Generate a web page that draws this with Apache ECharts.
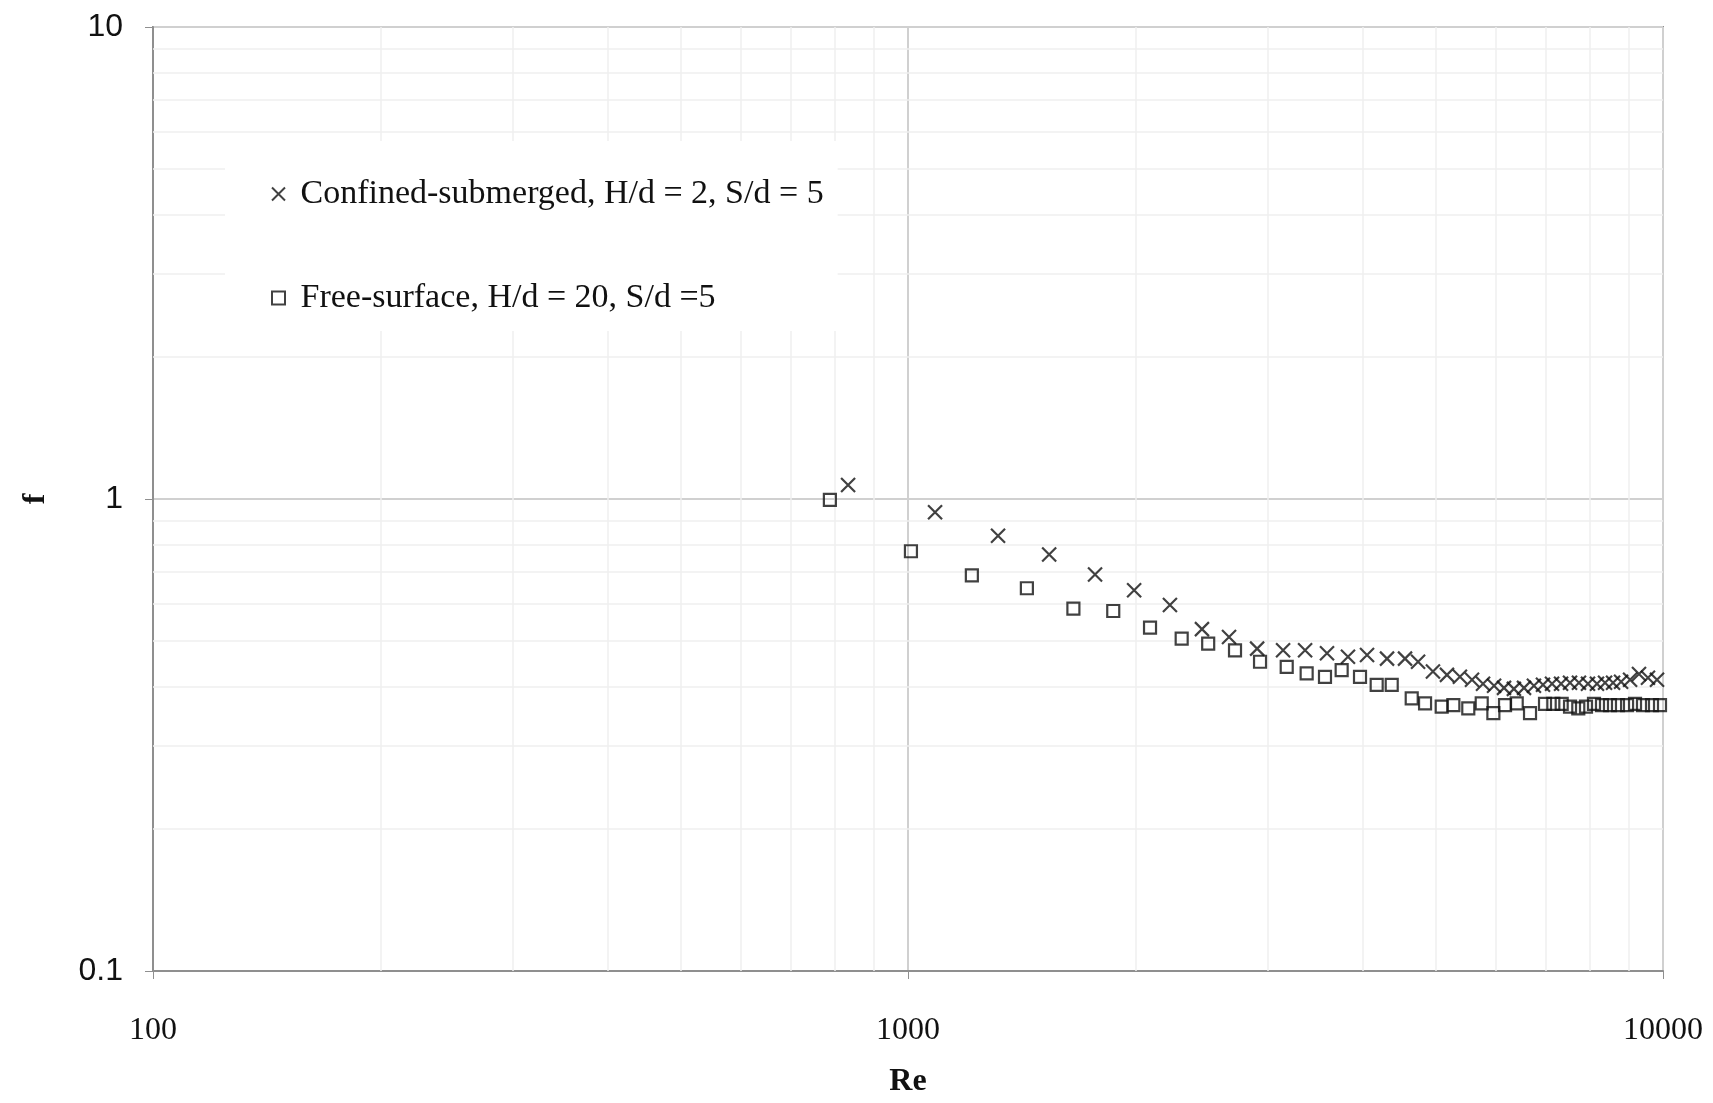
<!DOCTYPE html>
<html>
<head>
<meta charset="utf-8">
<title>Friction factor vs Re</title>
<script src="https://cdn.jsdelivr.net/npm/echarts@6/dist/echarts.min.js"></script>
<style>
  html, body { margin: 0; padding: 0; background: #fff; }
  #chart { width: 1713px; height: 1103px; }
</style>
</head>
<body>
<div id="chart"></div>
<script>
// Confined-submerged, H/d = 2, S/d = 5 (crosses)
const confinedRe = [833, 1086, 1316, 1538, 1769, 1993, 2223, 2451, 2662, 2900,
  3139, 3357, 3589, 3826, 4055, 4310, 4553, 4738, 4958, 5174,
  5383, 5585, 5776, 5974, 6158, 6346, 6545, 6746, 6935, 7129,
  7328, 7531, 7739, 7955, 8176, 8380, 8587, 8800, 9045, 9294,
  9552, 9819]
const confinedF = [1.071, 0.937, 0.836, 0.763, 0.692, 0.641, 0.596, 0.530, 0.510, 0.482,
  0.478, 0.478, 0.471, 0.463, 0.467, 0.459, 0.459, 0.452, 0.431, 0.424,
  0.420, 0.414, 0.406, 0.402, 0.398, 0.396, 0.398, 0.402, 0.404, 0.406,
  0.406, 0.408, 0.408, 0.406, 0.406, 0.408, 0.408, 0.410, 0.414, 0.426,
  0.418, 0.414]

// Free-surface, H/d = 20, S/d = 5 (squares)
const freeRe = [788, 1009, 1215, 1437, 1656, 1870, 2092, 2304, 2498, 2711,
  2926, 3174, 3373, 3567, 3753, 3969, 4176, 4372, 4647, 4840,
  5092, 5276, 5522, 5753, 5961, 6177, 6401, 6666, 6978, 7157,
  7342, 7531, 7723, 7907, 8102, 8302, 8507, 8717, 8962, 9182,
  9408, 9670, 9909]
const freeF = [0.996, 0.775, 0.689, 0.647, 0.586, 0.579, 0.534, 0.506, 0.494, 0.478,
  0.452, 0.441, 0.427, 0.420, 0.434, 0.420, 0.404, 0.404, 0.378, 0.369,
  0.363, 0.366, 0.360, 0.369, 0.352, 0.366, 0.369, 0.352, 0.368, 0.368,
  0.368, 0.363, 0.360, 0.363, 0.368, 0.366, 0.366, 0.366, 0.366, 0.368,
  0.366, 0.366, 0.366]

const seriesNames = ["Confined-submerged, H/d = 2, S/d = 5", "Free-surface, H/d = 20, S/d =5"]

// log-axis ticks and the in-between grid values
const xTicks = [100, 1000, 10000]
const xTickLabels = ["100", "1000", "10000"]
const yTicks = [0.1, 1, 10]
const yTickLabels = ["0.1", "1", "10"]
const minorX = [200, 300, 400, 500, 600, 700, 800, 900, 2000, 3000, 4000, 5000, 6000, 7000, 8000, 9000]
const minorY = [0.2, 0.3, 0.4, 0.5, 0.6, 0.7, 0.8, 0.9, 2, 3, 4, 5, 6, 7, 8, 9]

const serif = "'Liberation Serif', 'DejaVu Serif', serif"
const sans = "'Liberation Sans', Arial, sans-serif"
const ink = "#111"
const frame = "#8f8f8f"
const majorGrid = "#d0d0d0"
const minorGrid = "#efefef"

const crossPath = "path://M0,0L10,10M10,0L0,10"
const squarePath = "path://M0,0L10,0L10,10L0,10Z"

function tickLabel(ticks, labels) {
  return (value) => {
    const i = ticks.findIndex((t) => Math.abs(Math.log10(t) - Math.log10(value)) < 1e-6)
    return i >= 0 ? labels[i] : ""
  }
}

const chart = echarts.init(document.getElementById("chart"), null, { renderer: "canvas" })

chart.setOption({
  animation: false,
  backgroundColor: "#fff",
  grid: {
    left: 153, right: 50, top: 27, bottom: 127,
    show: true, borderColor: frame, borderWidth: 2,
  },
  legend: {
    orient: "vertical",
    left: 225,
    top: 141,
    z: 10,
    padding: [36, 14, 16, 46],
    backgroundColor: "#fff",
    itemWidth: 34,
    itemHeight: 13,
    itemGap: 70,
    textStyle: { fontFamily: serif, fontSize: 34, color: ink },
    data: [
      { name: seriesNames[0], icon: crossPath },
      { name: seriesNames[1], icon: squarePath },
    ],
  },
  xAxis: {
    type: "log",
    logBase: 10,
    min: 100,
    max: 10000,
    name: "Re",
    nameLocation: "middle",
    nameGap: 95,
    nameTextStyle: { fontFamily: serif, fontSize: 32, fontWeight: "bold", color: ink },
    axisLine: { lineStyle: { color: frame, width: 2 } },
    axisTick: { show: true, length: 8, lineStyle: { color: frame, width: 1 } },
    axisLabel: {
      margin: 44,
      fontFamily: serif,
      fontSize: 32,
      color: ink,
      formatter: tickLabel(xTicks, xTickLabels),
    },
    splitLine: { show: true, lineStyle: { color: majorGrid, width: 2 } },
  },
  yAxis: {
    type: "log",
    logBase: 10,
    min: 0.1,
    max: 10,
    name: "f",
    nameLocation: "middle",
    nameRotate: 90,
    nameGap: 101,
    nameTextStyle: { fontFamily: serif, fontSize: 32, fontWeight: "bold", color: ink },
    axisLine: { show: true, lineStyle: { color: frame, width: 2 } },
    axisTick: { show: true, length: 8, lineStyle: { color: frame, width: 1 } },
    axisLabel: {
      margin: 30,
      fontFamily: sans,
      fontSize: 32,
      color: ink,
      formatter: tickLabel(yTicks, yTickLabels),
    },
    splitLine: { show: true, lineStyle: { color: majorGrid, width: 2 } },
  },
  series: [
    {
      // minor log grid, drawn on the axes' own scales
      name: "minor grid",
      type: "line",
      data: [],
      z: 1,
      silent: true,
      markLine: {
        silent: true,
        z: 1,
        symbol: "none",
        label: { show: false },
        lineStyle: { color: minorGrid, width: 1.5, type: "solid" },
        data: minorX.map((v) => ({ xAxis: v })).concat(minorY.map((v) => ({ yAxis: v }))),
      },
    },
    {
      name: seriesNames[0],
      type: "scatter",
      symbol: crossPath,
      symbolSize: 14,
      z: 3,
      itemStyle: { color: "transparent", borderColor: ink, borderWidth: 2.2 },
      data: confinedRe.map((re, i) => [re, confinedF[i]]),
    },
    {
      name: seriesNames[1],
      type: "scatter",
      symbol: squarePath,
      symbolSize: 12,
      z: 3,
      itemStyle: { color: "transparent", borderColor: ink, borderWidth: 2.2 },
      data: freeRe.map((re, i) => [re, freeF[i]]),
    },
  ],
})
</script>
</body>
</html>
